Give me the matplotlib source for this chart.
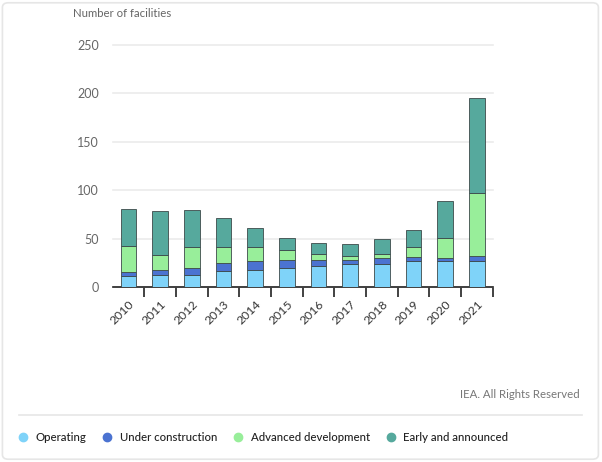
import matplotlib.pyplot as plt
from matplotlib.lines import Line2D
from matplotlib.patches import FancyBboxPatch
import numpy as np

years = ["2010", "2011", "2012", "2013", "2014", "2015",
         "2016", "2017", "2018", "2019", "2020", "2021"]

operating = [11, 12, 12, 17, 18, 20, 22, 24, 24, 27, 27, 27]
under_construction = [4, 6, 8, 8, 9, 8, 6, 4, 6, 4, 3, 5]
advanced = [27, 15, 21, 16, 14, 10, 6, 4, 4, 10, 21, 65]
early = [39, 45, 39, 30, 20, 13, 11, 12, 16, 18, 38, 98]

series = [
    ("Operating", operating, "#7fd3f9"),
    ("Under construction", under_construction, "#4b73d1"),
    ("Advanced development", advanced, "#98ee9a"),
    ("Early and announced", early, "#56a99d"),
]

plt.rcParams["font.family"] = ["Lato", "DejaVu Sans"]

fig = plt.figure(figsize=(6.02, 4.62), dpi=100)

# light card border round the whole figure
card = FancyBboxPatch((0.004, 0.006), 0.99, 0.988, boxstyle="round,pad=0,rounding_size=0.01",
                      transform=fig.transFigure, fill=False, edgecolor="#e6e6e6", lw=1.2)
fig.patches.append(card)

ax = fig.add_axes([0.1872, 0.3788, 0.6312, 0.5238])

x = np.arange(len(years))
bottom = np.zeros(len(years))
for name, vals, color in series:
    ax.bar(x, vals, width=0.5, bottom=bottom, color=color,
           edgecolor="#3d4a4a", linewidth=0.6, zorder=3)
    bottom += np.array(vals)

ax.set_xlim(-0.5, len(years) - 0.5)
ax.set_ylim(0, 250)
ax.set_yticks([0, 50, 100, 150, 200, 250])
ax.yaxis.grid(True, color="#ebebeb", linewidth=1.2)
ax.set_axisbelow(True)
for g in ax.get_ygridlines():
    g.set_clip_on(False)

for s in ["top", "right", "left"]:
    ax.spines[s].set_visible(False)
ax.spines["bottom"].set_color("#222222")
ax.spines["bottom"].set_linewidth(1.2)

ax.tick_params(axis="y", length=0, pad=10, labelsize=9, labelcolor="#666666")
ax.set_xticks(x)
ax.set_xticklabels(years, rotation=45, ha="right", rotation_mode="anchor",
                   fontsize=8.8, color="#333333")
ax.tick_params(axis="x", which="major", length=0, pad=8)
ax.set_xticks(x + 0.5, minor=True)
ax.tick_params(axis="x", which="minor", length=7, width=1.2, color="#222222")

fig.text(0.121, 0.97, "Number of facilities", fontsize=8.2, color="#666666",
         ha="left", va="center")
fig.text(0.963, 0.147, "IEA. All Rights Reserved", fontsize=8.2, color="#777777",
         ha="right", va="center")

fig.add_artist(Line2D([0.031, 0.967], [0.101, 0.101], transform=fig.transFigure,
                      color="#e6e6e6", linewidth=1.2))

handles = [Line2D([], [], marker="o", linestyle="none", markersize=6,
                  markerfacecolor=c, markeredgecolor=c) for _, _, c in series]
labels = [n for n, _, _ in series]
fig.legend(handles, labels, loc="center left", bbox_to_anchor=(0.028, 0.054),
           ncol=4, frameon=False, handletextpad=0.6,
           columnspacing=1.35, handlelength=1.0, borderpad=0, borderaxespad=0,
           labelcolor="#222222", prop={"weight": "medium", "size": 8.2})

fig.savefig("out.png", dpi=100)
